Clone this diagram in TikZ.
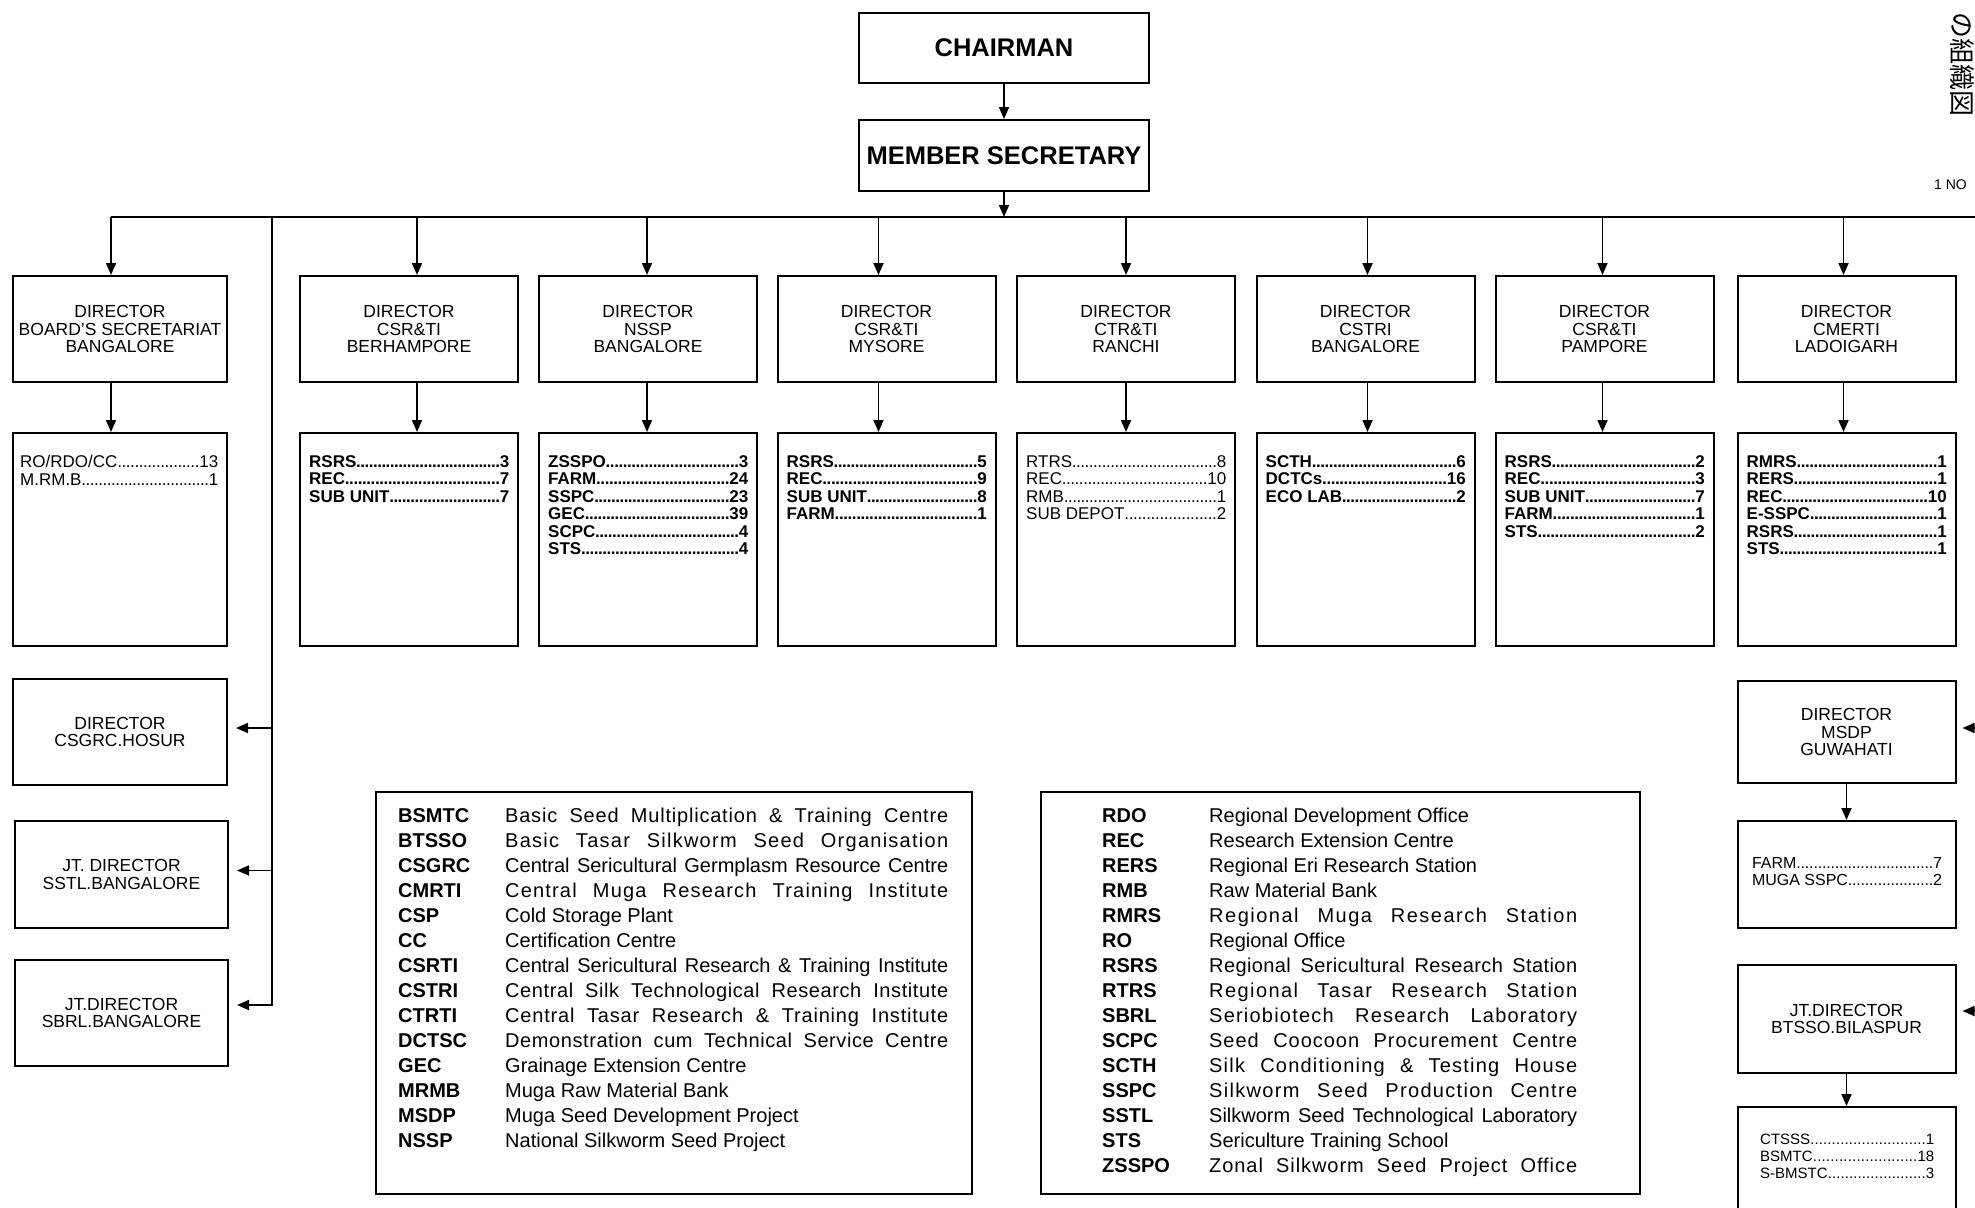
\documentclass[tikz,border=0pt]{standalone}
\usepackage{fontspec}
\setmainfont{Liberation Sans}
\newfontfamily\cjk{Noto Sans CJK JP}
\usetikzlibrary{arrows.meta,calc}
\newcommand\mydots{\xleaders\hbox to 4.2pt{\hss.\hss}\hfill}
\newcommand\itm[3][200pt]{\hbox to #1{#2\mydots#3}}
\newcommand\lsp[2]{{\addfontfeature{LetterSpace=#1}#2}}
\begin{document}
\begin{tikzpicture}[x=1pt,y=-1pt,
  box/.style={draw, line width=2pt, inner sep=0pt, align=center},
  dbox/.style={box, minimum width=218pt, minimum height=106pt, font=\fontsize{17.5}{17.6}\selectfont},
  sbox/.style={box, minimum width=218pt, minimum height=213pt},
  items/.style={inner sep=0pt, align=left, anchor=north west, font=\bfseries\fontsize{17}{17.5}\selectfont},
  ritems/.style={items, font=\fontsize{17}{17.5}\selectfont},
  conn/.style={line width=1.8pt, -{Triangle[length=12pt,width=10pt]}},
  wire/.style={line width=1.8pt},
  abbr/.style={anchor=base west, inner sep=0pt, font=\bfseries\fontsize{20}{20}\selectfont},
  defn/.style={anchor=base west, inner sep=0pt, font=\fontsize{20}{20}\selectfont},
]
\useasboundingbox (0,0) rectangle (1975,1207);
\clip (0,0) rectangle (1975,1207);
\fill[white] (0,0) rectangle (1975,1207);

% top
\node[box, minimum width=290pt, minimum height=70pt, font=\bfseries\fontsize{25.5}{25.5}\selectfont] (ch) at (1004,48) {CHAIRMAN};
\node[box, minimum width=290pt, minimum height=71pt, font=\bfseries\fontsize{25.5}{25.5}\selectfont] (ms) at (1004,155.5) {MEMBER SECRETARY};

% director row
\node[dbox, minimum width=214pt] (b1) at (120,329) {DIRECTOR\\BOARD'S SECRETARIAT\\BANGALORE};
\node[dbox] (b2) at (409,329) {DIRECTOR\\CSR\&TI\\BERHAMPORE};
\node[dbox] (b3) at (648,329) {DIRECTOR\\NSSP\\BANGALORE};
\node[dbox] (b4) at (886.5,329) {DIRECTOR\\CSR\&TI\\MYSORE};
\node[dbox] (b5) at (1126,329) {DIRECTOR\\CTR\&TI\\RANCHI};
\node[dbox] (b6) at (1365.5,329) {DIRECTOR\\CSTRI\\BANGALORE};
\node[dbox] (b7) at (1604.5,329) {DIRECTOR\\CSR\&TI\\PAMPORE};
\node[dbox] (b8) at (1846.5,329) {DIRECTOR\\CMERTI\\LADOIGARH};

% sub boxes
\node[sbox, minimum width=214pt] (s1) at (120,539.5) {};
\node[sbox] (s2) at (409,539.5) {};
\node[sbox] (s3) at (648,539.5) {};
\node[sbox] (s4) at (886.5,539.5) {};
\node[sbox] (s5) at (1126,539.5) {};
\node[sbox] (s6) at (1365.5,539.5) {};
\node[sbox] (s7) at (1604.5,539.5) {};
\node[sbox] (s8) at (1846.5,539.5) {};

\node[ritems] (i1) at ($(s1.north west)+(8,23)$) {\itm[198pt]{RO/RDO/CC}{13}\\\itm[198pt]{M.RM.B}{1}};
\node[items] (i2) at ($(s2.north west)+(10,23)$) {\itm{RSRS}{3}\\\itm{REC}{7}\\\itm{SUB UNIT}{7}};
\node[items] (i3) at ($(s3.north west)+(10,23)$) {\itm{ZSSPO}{3}\\\itm{FARM}{24}\\\itm{SSPC}{23}\\\itm{GEC}{39}\\\itm{SCPC}{4}\\\itm{STS}{4}};
\node[items] (i4) at ($(s4.north west)+(10,23)$) {\itm{RSRS}{5}\\\itm{REC}{9}\\\itm{SUB UNIT}{8}\\\itm{FARM}{1}};
\node[ritems] (i5) at ($(s5.north west)+(10,23)$) {\itm{RTRS}{8}\\\itm{REC}{10}\\\itm{RMB}{1}\\\itm{SUB DEPOT}{2}};
\node[items] (i6) at ($(s6.north west)+(10,23)$) {\itm{SCTH}{6}\\\itm{DCTCs}{16}\\\itm{ECO LAB}{2}};
\node[items] (i7) at ($(s7.north west)+(10,23)$) {\itm{RSRS}{2}\\\itm{REC}{3}\\\itm{SUB UNIT}{7}\\\itm{FARM}{1}\\\itm{STS}{2}};
\node[items] (i8) at ($(s8.north west)+(10,23)$) {\itm{RMRS}{1}\\\itm{RERS}{1}\\\itm{REC}{10}\\\itm{E-SSPC}{1}\\\itm{RSRS}{1}\\\itm{STS}{1}};

% left column
\node[dbox, minimum width=214pt] (csgrc) at (120,732) {DIRECTOR\\CSGRC.HOSUR};
\node[dbox, minimum width=213pt, minimum height=107pt] (sstl) at (121.5,874.5) {JT. DIRECTOR\\SSTL.BANGALORE};
\node[dbox, minimum width=213pt] (sbrl) at (121.5,1013) {JT.DIRECTOR\\SBRL.BANGALORE};

% right column
\node[dbox, minimum height=102pt] (msdp) at (1846.5,732) {DIRECTOR\\MSDP\\GUWAHATI};
\node[box, minimum width=218pt, minimum height=107pt] (msub) at (1846.5,874.5) {};
\node[ritems, anchor=center, font=\fontsize{16}{17}\selectfont] (mi) at (1847,872) {\itm[190pt]{FARM}{7}\\\itm[190pt]{MUGA SSPC}{2}};
\node[dbox, minimum height=108pt] (bts) at (1846.5,1019) {JT.DIRECTOR\\BTSSO.BILASPUR};
\node[box, minimum width=218pt, minimum height=125pt, anchor=north] (bsub) at (1846.5,1106) {};
\node[ritems, font=\fontsize{15}{17}\selectfont] (bi) at (1760,1134) {\itm[174pt]{CTSSS}{1}\\\itm[174pt]{BSMTC}{18}\\\itm[174pt]{S-BMSTC}{3}};

% legends
\node[box, minimum width=596pt, minimum height=402pt, anchor=north west] (legA) at (375,791) {};
\node[box, minimum width=599pt, minimum height=402pt, anchor=north west] (legB) at (1040,791) {};

\foreach \a/\d/\m/\ls [count=\i from 0] in {
  BSMTC/Basic Seed Multiplication \& Training Centre/s/4,
  BTSSO/Basic Tasar Silkworm Seed Organisation/s/6.3,
  CSGRC/Central Sericultural Germplasm Resource Centre/s/0,
  CMRTI/Central Muga Research Training Institute/s/5.9,
  CSP/Cold Storage Plant/l/0,
  CC/Certification Centre/l/0,
  CSRTI/Central Sericultural Research \& Training Institute/s/0,
  CSTRI/Central Silk Technological Research Institute/s/3,
  CTRTI/Central Tasar Research \& Training Institute/s/4,
  DCTSC/Demonstration cum Technical Service Centre/s/2.9,
  GEC/Grainage Extension Centre/l/0,
  MRMB/Muga Raw Material Bank/l/0,
  MSDP/Muga Seed Development Project/l/0,
  NSSP/National Silkworm Seed Project/l/0}
{
  \node[abbr] (la\i) at (398,{822+25*\i}) {\a};
  \node[defn] (ld\i) at (505,{822+25*\i}) {\makebox[443pt][\m]{\lsp{\ls}{\d}}};
}
\foreach \a/\d/\m/\ls [count=\i from 0] in {
  RDO/Regional Development Office/l/0,
  REC/Research Extension Centre/l/0,
  RERS/Regional Eri Research Station/l/0,
  RMB/Raw Material Bank/l/0,
  RMRS/Regional Muga Research Station/s/7.5,
  RO/Regional Office/l/0,
  RSRS/Regional Sericultural Research Station/s/2,
  RTRS/Regional Tasar Research Station/s/7.1,
  SBRL/Seriobiotech Research Laboratory/s/6.1,
  SCPC/Seed Coocoon Procurement Centre/s/4.8,
  SCTH/Silk Conditioning \& Testing House/s/6,
  SSPC/Silkworm Seed Production Centre/s/6.6,
  SSTL/Silkworm Seed Technological Laboratory/s/0,
  STS/Sericulture Training School/l/0,
  ZSSPO/Zonal Silkworm Seed Project Office/s/4.7}
{
  \node[abbr] (lb\i) at (1102,{822+25*\i}) {\a};
  \node[defn] (le\i) at (1209,{822+25*\i}) {\makebox[368pt][\m]{\lsp{\ls}{\d}}};
}

% side texts
\node[rotate=-90, anchor=west, inner sep=0pt, font=\cjk\fontsize{26}{26}\selectfont] (jp) at (1962,12) {の組織図};
\node[anchor=west, inner sep=0pt, font=\fontsize{14}{14}\selectfont] (nov) at (1934,185) {1 NO};

% connectors
\coordinate (bus) at (1004,217);
\coordinate (busR) at (1990,217);
\draw[conn] (ch) -- (ms);
\draw[conn] (ms) -- (bus);
\draw[wire] ([xshift=-9pt]b1.north |- bus) -- (busR);
\foreach \b/\s/\dx in {b1/s1/-9,b2/s2/8,b3/s3/-1,b4/s4/-8,b5/s5/0,b6/s6/2,b7/s7/-2,b8/s8/-3}{
  \draw[conn] ([xshift=\dx pt]\b.north |- bus) -- ([xshift=\dx pt]\b.north);
  \draw[conn] ([xshift=\dx pt]\b.south) -- ([xshift=\dx pt]\s.north);
}

\coordinate (vt) at (272,217);
\coordinate (ca) at ($(csgrc.east)+(8,-4)$);
\coordinate (sa) at ($(sstl.east)+(8,-4)$);
\coordinate (ba) at ($(sbrl.east)+(8,-8)$);
\draw[conn] (vt) |- (ba);
\draw[conn] (vt |- ca) -- (ca);
\draw[conn] (vt |- sa) -- (sa);

\coordinate (rx) at (1995,0);
\coordinate (ma) at ($(msdp.east)+(6,-4)$);
\coordinate (ta) at ($(bts.east)+(6,-8)$);
\draw[conn] (rx |- ma) -- (ma);
\draw[conn] (rx |- ta) -- (ta);
\draw[conn] (msdp) -- (msub);
\draw[conn] (bts) -- (bsub);
\end{tikzpicture}
\end{document}
